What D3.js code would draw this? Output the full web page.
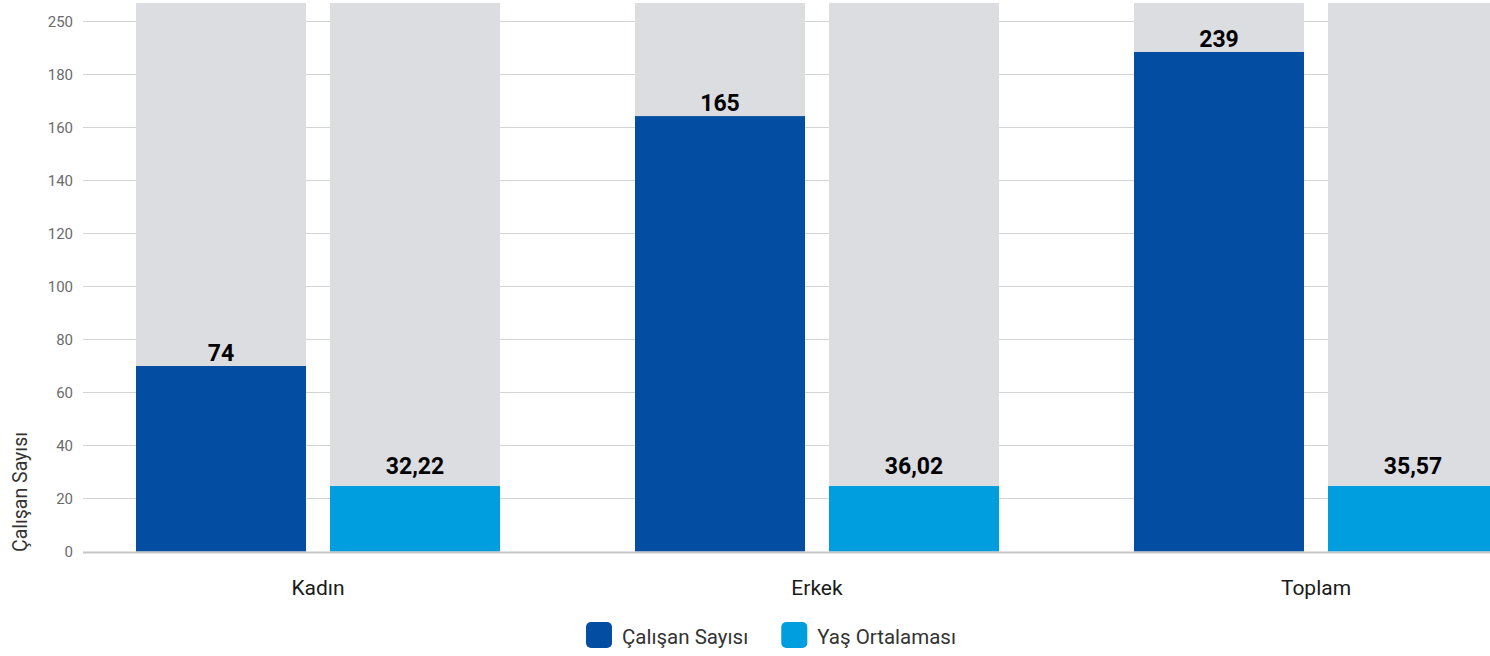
<!DOCTYPE html>
<html>
<head>
<meta charset="utf-8">
<script src="https://cdn.jsdelivr.net/npm/d3@7"></script>
<style>
  html, body { margin: 0; padding: 0; background: #fff; }
  svg { display: block; font-family: Roboto, "Noto Sans", sans-serif; }
</style>
</head>
<body>
<svg id="chart" width="1490" height="656"></svg>
<script>
// ---- data ----
const categories = ["Kadın", "Erkek", "Toplam"];
const seriesNames = ["Çalışan Sayısı", "Yaş Ortalaması"];
const seriesColors = ["#034ea2", "#009ddf"];
// labels shown above bars
const calisanLabels = ["74", "165", "239"];
const yasLabels = ["32,22", "36,02", "35,57"];
// bar heights as drawn in the picture (axis units)
const calisanHeights = [70, 164.3, 188.5];
const yasHeights = [24.7, 24.7, 24.7];
const backgroundHeight = 207;
// axis ticks
const tickValues = [0, 20, 40, 60, 80, 100, 120, 140, 160, 180, 200];
const tickLabels = ["0", "20", "40", "60", "80", "100", "120", "140", "160", "180", "250"];
const yTitle = "Çalışan Sayısı";

// ---- layout ----
const svg = d3.select("#chart");
const W = 1490;
const gridX0 = 83;

const y = d3.scaleLinear().domain([0, 200]).range([551.5, 21.5]);

const x0 = d3.scaleBand().domain(categories)
  .range([68.5, 1565.5]).paddingInner(0.2705).paddingOuter(0.2705 / 2);
const x1 = d3.scaleBand().domain(seriesNames)
  .range([0, x0.bandwidth()]).paddingInner(0.1237).paddingOuter(0);

// gridlines
svg.append("g").selectAll("line").data(tickValues.slice(1)).join("line")
  .attr("x1", gridX0).attr("x2", W)
  .attr("y1", d => y(d)).attr("y2", d => y(d))
  .attr("stroke", "#d4d4d4").attr("stroke-width", 1);

// y tick labels
svg.append("g").selectAll("text").data(tickValues).join("text")
  .attr("x", 73).attr("y", d => y(d)).attr("dy", "0.35em")
  .attr("text-anchor", "end")
  .attr("font-size", 15).attr("fill", "#6b6b6b")
  .text((d, i) => tickLabels[i]);

// y title
svg.append("text")
  .attr("transform", `translate(27, 492) rotate(-90)`)
  .attr("text-anchor", "middle")
  .attr("font-size", 19.5).attr("fill", "#333")
  .text(yTitle);

const rows = categories.map((c, i) => ({
  cat: c,
  vals: [
    { s: seriesNames[0], h: calisanHeights[i], label: calisanLabels[i], gap: 5 },
    { s: seriesNames[1], h: yasHeights[i], label: yasLabels[i], gap: 12 }
  ]
}));

const groups = svg.append("g").selectAll("g").data(rows).join("g")
  .attr("transform", d => `translate(${x0(d.cat)},0)`);

// background bars
groups.selectAll("rect.bg").data(d => d.vals).join("rect")
  .attr("class", "bg")
  .attr("x", d => x1(d.s)).attr("width", x1.bandwidth())
  .attr("y", y(backgroundHeight)).attr("height", y(0) - y(backgroundHeight))
  .attr("fill", "#dcdde0");

// value bars
groups.selectAll("rect.val").data(d => d.vals).join("rect")
  .attr("class", "val")
  .attr("x", d => x1(d.s)).attr("width", x1.bandwidth())
  .attr("y", d => y(d.h)).attr("height", d => y(0) - y(d.h))
  .attr("fill", (d, i) => seriesColors[i]);

// value labels
groups.selectAll("text.lbl").data(d => d.vals).join("text")
  .attr("class", "lbl")
  .attr("x", d => x1(d.s) + x1.bandwidth() / 2)
  .attr("y", d => y(d.h) - d.gap)
  .attr("text-anchor", "middle")
  .attr("font-size", 23).attr("font-weight", 700).attr("fill", "#000")
  .text(d => d.label);

// baseline
svg.append("line")
  .attr("x1", gridX0).attr("x2", W)
  .attr("y1", y(0) + 1).attr("y2", y(0) + 1)
  .attr("stroke", "#c6c6c6").attr("stroke-width", 2);

// category labels
svg.append("g").selectAll("text").data(categories).join("text")
  .attr("x", d => x0(d) + x0.bandwidth() / 2)
  .attr("y", 595)
  .attr("text-anchor", "middle")
  .attr("font-size", 21).attr("fill", "#1a1a1a")
  .text(d => d);

// legend
const legend = svg.append("g");
const items = legend.selectAll("g").data(seriesNames).join("g");
items.append("rect").attr("width", 26).attr("height", 26).attr("rx", 5).attr("ry", 5)
  .attr("y", 622).attr("fill", (d, i) => seriesColors[i]);
items.append("text").attr("x", 36).attr("y", 644)
  .attr("font-size", 20.5).attr("fill", "#333").text(d => d);
let widths = [];
items.each(function () { widths.push(this.getBBox().width); });
const spacing = 33;
const total = d3.sum(widths) + spacing * (widths.length - 1);
let cx = 771 - total / 2;
items.attr("transform", (d, i) => {
  const t = `translate(${cx},0)`;
  cx += widths[i] + spacing;
  return t;
});
</script>
</body>
</html>
